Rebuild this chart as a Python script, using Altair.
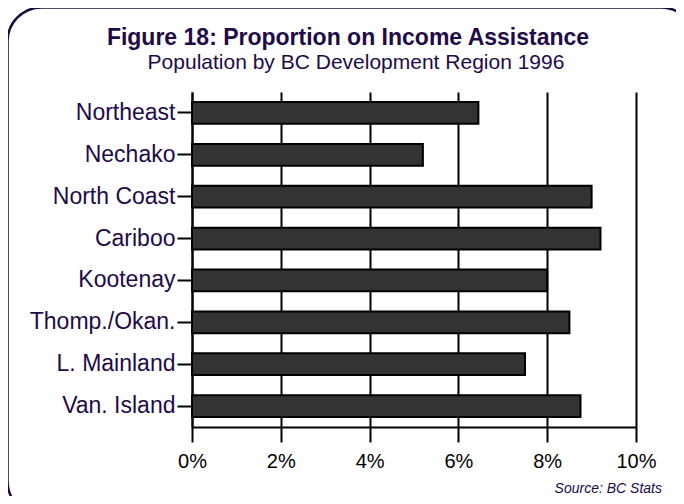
import altair as alt
import pandas as pd

regions = ["Northeast", "Nechako", "North Coast", "Cariboo", "Kootenay",
           "Thomp./Okan.", "L. Mainland", "Van. Island"]
shares = [0.0645, 0.052, 0.090, 0.092, 0.080, 0.085, 0.075, 0.0875]
x_ticks = [0, 0.02, 0.04, 0.06, 0.08, 0.10]
title_text = ["Figure 18: Proportion on Income Assistance"]
subtitle_text = ["Population by BC Development Region 1996"]
source_text = ["Source: BC Stats"]

df = pd.DataFrame({"region": regions, "share": shares})
ink = "#1e0b48"
FONT = "Liberation Sans"

bars = alt.Chart(df).mark_bar(color="#333333", stroke="black", strokeWidth=2).encode(
    x=alt.X("share:Q",
            scale=alt.Scale(domain=[0, 0.1], nice=False, zero=True),
            axis=alt.Axis(values=x_ticks, format=".0%", title=None, grid=True,
                          gridColor="black", gridWidth=2, gridOpacity=1,
                          tickSize=15, tickColor="black", tickWidth=2,
                          domainColor="black", domainWidth=2,
                          labelFontSize=20, labelColor="black", labelPadding=9,
                          labelFlush=False, labelOverlap=False, labelFont=FONT)),
    y=alt.Y("region:N", sort=regions,
            scale=alt.Scale(paddingInner=0.48, paddingOuter=0.24),
            axis=alt.Axis(title=None, tickSize=15, tickColor="black", tickWidth=2,
                          domainColor="black", domainWidth=2,
                          labelFontSize=23, labelColor=ink, labelPadding=2,
                          labelFont=FONT)),
)

frame = alt.Chart(pd.DataFrame({"k": [0]})).mark_rect(
    fillOpacity=0, stroke="#1b0b3b", strokeWidth=2.5, cornerRadius=34
).encode(x=alt.value(-184.5), x2=alt.value(503), y=alt.value(-84.5), y2=alt.value(423))

title = alt.Chart(pd.DataFrame({"t": title_text})).mark_text(
    font=FONT, fontWeight="bold", fontSize=23, color=ink, align="center", baseline="alphabetic"
).encode(text="t:N", x=alt.value(156), y=alt.value(-47))

subtitle = alt.Chart(pd.DataFrame({"t": subtitle_text})).mark_text(
    font=FONT, fontSize=21, color=ink, align="center", baseline="alphabetic"
).encode(text="t:N", x=alt.value(164), y=alt.value(-23))

source = alt.Chart(pd.DataFrame({"t": source_text})).mark_text(
    font=FONT, fontStyle="italic", fontSize=14, color=ink, align="right", baseline="alphabetic"
).encode(text="t:N", x=alt.value(470), y=alt.value(401))

chart = alt.layer(frame, bars, title, subtitle, source).properties(
    width=444, height=335,
    padding={"left": 184, "top": 84, "right": 40, "bottom": 69},
    autosize=alt.AutoSizeParams(type="none"),
    background="white",
).configure_view(strokeWidth=0)

chart.save("out.html", embed_options={"renderer": "svg", "actions": False})
